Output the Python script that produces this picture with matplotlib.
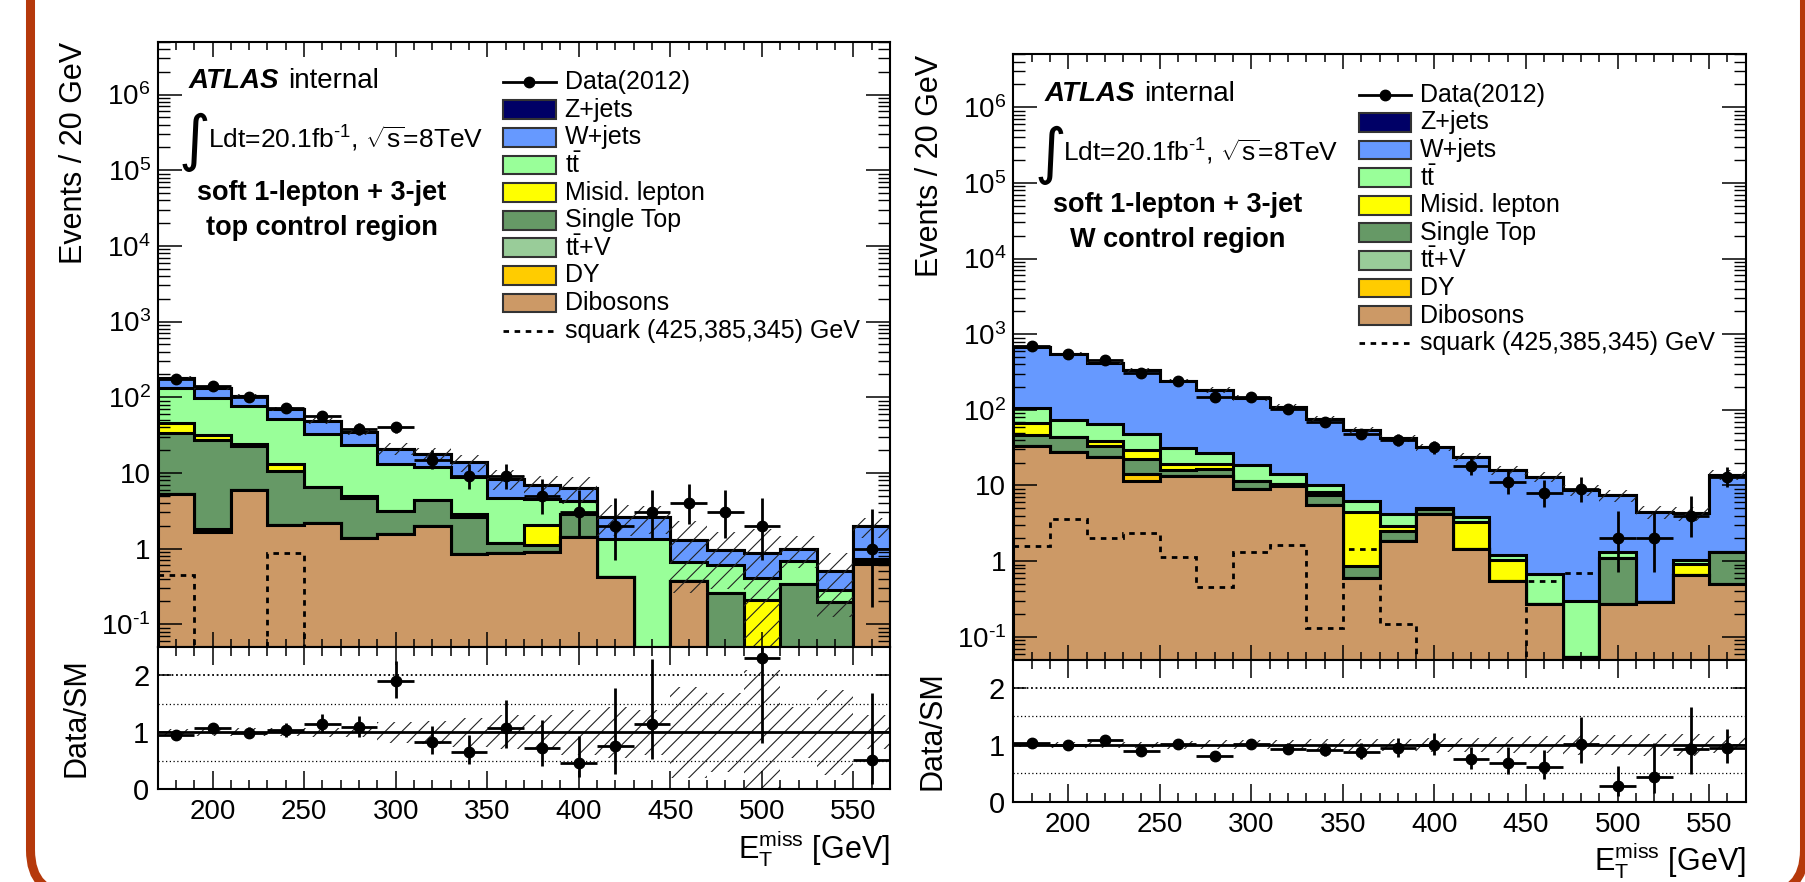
import numpy as np
import matplotlib
matplotlib.use("Agg")
import matplotlib.pyplot as plt
from matplotlib.patches import Rectangle, FancyBboxPatch
from matplotlib.lines import Line2D
from matplotlib.transforms import IdentityTransform
from matplotlib.ticker import FixedLocator, FixedFormatter, MultipleLocator, LogLocator, NullFormatter

plt.rcParams['font.family'] = ['Liberation Sans', 'DejaVu Sans']
plt.rcParams['mathtext.fontset'] = 'custom'
plt.rcParams['mathtext.rm'] = 'Liberation Sans'
plt.rcParams['mathtext.it'] = 'Liberation Sans:italic'
plt.rcParams['mathtext.bf'] = 'Liberation Sans:bold'
plt.rcParams['hatch.linewidth'] = 0.8

# ── binning: MET 170-570 GeV, 20 GeV bins ─────────────────────────────────────
edges = np.arange(170, 571, 20)
centers = edges[:-1] + 10

# ── top control region (left) ────────────────────────────────────────────────
top_data  = [172, 140, 102, 73, 56, 38, 40, 15, 9, 9, 5, 3, 2, 3, 4, 3, 2, 0, 0, 1]
top_dib   = [5.2, 1.64, 5.9, 2.07, 2.18, 1.36, 1.56, 2.01, 0.85, 0.87, 0.90, 1.43, 0.42, 0, 0.374, 0, 0, 0, 0, 0.63]
top_dy    = [0] * 20
top_ttv   = [0, 0.16, 0, 0, 0, 0, 0, 0, 0, 0, 0, 0, 0, 0, 0, 0, 0, 0, 0, 0]
top_stop  = [28.8, 25.6, 16.9, 8.4, 4.3, 3.3, 1.55, 2.42, 1.74, 0.32, 0.22, 1.47, 0, 0, 0, 0.26, 0, 0.342, 0.198, 0.05]
top_misid = [11.5, 3.9, 1.5, 2.5, 0, 0.34, 0, 0, 0.28, 0, 0.95, 0, 0, 0, 0, 0, 0.212, 0, 0, 0]
top_ttbar = [86.5, 65.7, 51.2, 38.4, 26.4, 18.5, 10.0, 7.47, 5.93, 3.47, 2.45, 1.3, 0.92, 1.34, 0.286, 0.355, 0.198, 0.338, 0.084, 0.04]
top_wjets = [47, 34, 27.5, 19.1, 15.8, 11.5, 7.9, 6.0, 5.0, 3.74, 2.38, 2.2, 1.29, 1.26, 0.63, 0.355, 0.46, 0.32, 0.218, 1.24]
top_zjets = [0] * 20
top_relerr = [0.06, 0.06, 0.07, 0.07, 0.08, 0.09, 0.18, 0.2, 0.25, 0.3, 0.3, 0.4, 0.45, 0.4, 0.8, 0.7, 1.1, 0.45, 0.75, 0.3]
top_squark = [0.445, 0, 0, 0.877, 0, 0, 0, 0, 0, 0, 0, 0, 0, 0, 0, 0, 0, 0, 0, 0]

# ── W control region (right) ─────────────────────────────────────────────────
w_data  = [706, 548, 456, 307, 244, 147, 147, 103, 70, 48, 40, 32, 18, 11, 8, 9, 2, 2, 4, 13]
w_dib   = [33.7, 27.5, 23.6, 11.6, 13.5, 13.3, 9.0, 9.8, 5.55, 0.596, 1.87, 4.2, 1.46, 0.54, 0.273, 0.054, 0.273, 0.287, 0.65, 0.5]
w_dy    = [0, 0, 0, 2.4, 0, 0, 0, 0, 0, 0, 0, 0, 0, 0, 0, 0, 0, 0, 0, 0]
w_ttv   = [0] * 20
w_stop  = [12.9, 16.0, 10.1, 8.5, 2.3, 3.3, 2.4, 0.7, 1.85, 0.28, 0.67, 0.7, 0, 0, 0, 0, 0.827, 0, 0, 0.81]
w_misid = [19.9, 0, 4.8, 7.4, 3.5, 2.4, 0, 0, 0.9, 3.56, 0.42, 0, 1.88, 0.51, 0, 0, 0, 0, 0.27, 0]
w_ttbar = [39.5, 30.8, 26.7, 18.2, 12.1, 8.0, 7.0, 3.8, 1.9, 1.86, 1.26, 0.1, 0.47, 0.14, 0.407, 0.239, 0.24, 0, 0.13, 0]
w_wjets = [573, 477, 357, 293, 210.6, 157, 125.6, 95.7, 66.3, 48.2, 38.3, 27, 20.2, 14.8, 12.4, 8.5, 6.06, 4.21, 3.25, 12.5]
w_zjets = [0] * 20
w_relerr = [0.04, 0.05, 0.05, 0.06, 0.07, 0.08, 0.08, 0.09, 0.1, 0.1, 0.11, 0.12, 0.13, 0.14, 0.15, 0.17, 0.18, 0.2, 0.2, 0.15]
w_squark = [1.58, 3.62, 2.01, 2.34, 1.12, 0.454, 1.31, 1.66, 0.132, 1.46, 0.148, 0, 0, 0, 0.544, 0.69, 0, 0, 0, 0]

# stack order bottom -> top
stack_colors = ['#cc9966', '#ffcc00', '#99cc99', '#669966', '#ffff00', '#99ff99', '#6699ff', '#000066']
legend_labels = ['Z+jets', 'W+jets', r'$\mathrm{t\bar{t}}$', 'Misid. lepton', 'Single Top',
                 r'$\mathrm{t\bar{t}}$+V', 'DY', 'Dibosons']
legend_colors = stack_colors[::-1]

W, H = 1806, 882
FLOOR = 1e-4


def poisson_err(n):
    n = np.asarray(n, dtype=float)
    hi = 1 + np.sqrt(n + 0.75)
    lo = np.where(n > 0, n - n * (1 - 1 / (9 * np.maximum(n, 1)) - 1 / (3 * np.sqrt(np.maximum(n, 1)))) ** 3, 0)
    return lo, hi


def style_x(ax, major_len, minor_len):
    ax.set_xlim(170, 570)
    ax.xaxis.set_major_locator(MultipleLocator(50))
    ax.xaxis.set_minor_locator(MultipleLocator(10))
    ax.tick_params(axis='x', which='major', direction='in', top=True, bottom=True,
                   length=major_len, width=1.1)
    ax.tick_params(axis='x', which='minor', direction='in', top=True, bottom=True,
                   length=minor_len, width=1.1)
    for s in ax.spines.values():
        s.set_linewidth(1.5)


def draw_panel(ox, oy, comps, data, relerr, squark, region):
    data = np.array(data, dtype=float)
    relerr = np.array(relerr)
    cum = np.cumsum(np.array(comps, dtype=float), axis=0)
    total = cum[-1]

    ax = fig.add_axes([ox / W, 1 - (oy + 605.3) / H, 732.5 / W, 605.3 / H])
    rax = fig.add_axes([ox / W, 1 - (oy + 747.5) / H, 732.5 / W, 142.2 / H])

    # stacked histogram, drawn from the top cumulative down
    for k in range(len(comps) - 1, -1, -1):
        ax.stairs(np.maximum(cum[k], FLOOR), edges, baseline=FLOOR, fill=True,
                  facecolor=stack_colors[k], edgecolor='k', lw=2.2, zorder=1)
    ax.stairs(total * (1 + relerr), edges, baseline=np.maximum(total * (1 - relerr), FLOOR),
              fill=True, facecolor='none', edgecolor='#222222', hatch='//', lw=0, zorder=1.5)
    ax.stairs(np.maximum(squark, FLOOR), edges, baseline=None, color='k', lw=2.0,
              linestyle=(0, (2, 2)), zorder=2)

    lo, hi = poisson_err(data)
    m = data > 0
    ax.errorbar(centers[m], data[m], xerr=10, yerr=[lo[m], hi[m]], fmt='o', color='k',
                ms=7.5, lw=2, capsize=0, zorder=3)

    ax.set_yscale('log')
    ax.set_ylim(0.05, 5e6)
    ax.yaxis.set_major_locator(FixedLocator([1e-1, 1, 10, 1e2, 1e3, 1e4, 1e5, 1e6]))
    ax.yaxis.set_major_formatter(FixedFormatter([r'$10^{\text{-1}}$', '1', '10', r'$10^{2}$', r'$10^{3}$',
                                                 r'$10^{4}$', r'$10^{5}$', r'$10^{6}$']))
    ax.yaxis.set_minor_locator(LogLocator(base=10, subs=np.arange(2, 10), numticks=100))
    ax.yaxis.set_minor_formatter(NullFormatter())
    ax.tick_params(axis='y', which='major', direction='in', left=True, right=True,
                   length=17, width=1.1, labelsize=20, pad=5)
    ax.tick_params(axis='y', which='minor', direction='in', left=True, right=True,
                   length=8.5, width=1.0)
    style_x(ax, 10.8, 5.5)
    ax.tick_params(axis='x', labelbottom=False)

    # ratio panel
    rax.stairs(1 + relerr, edges, baseline=1 - relerr, fill=True, facecolor='none',
               edgecolor='#222222', hatch='//', lw=0, zorder=1)
    rax.axhline(1, color='k', lw=2, zorder=2)
    rax.axhline(2, color='k', lw=1.3, ls=(0, (1, 1.5)), zorder=2)
    for yv in (0.5, 1.5):
        rax.axhline(yv, color='k', lw=0.9, ls=(0, (1, 2)), zorder=2)
    ratio = np.where(total > 0, data / total, 0)
    rm = (data > 0) & (ratio <= 2.5)
    rax.errorbar(centers[rm], ratio[rm], xerr=10, yerr=[lo[rm] / total[rm], hi[rm] / total[rm]],
                 fmt='o', color='k', ms=7.5, lw=2, capsize=0, zorder=3)
    rax.set_ylim(0, 2.5)
    rax.set_yticks([0, 1, 2])
    rax.set_yticklabels(['0', '1', '2'])
    rax.tick_params(axis='y', which='major', direction='in', left=True, right=True,
                    length=9.5, width=1.1, labelsize=21, pad=6)
    rax.tick_params(axis='y', which='minor', left=False, right=False)
    style_x(rax, 13, 6.5)
    rax.tick_params(axis='x', labelsize=20, pad=7)

    # axis titles
    fig.text((ox - 83.5) / W, 1 - (oy + 0.5) / H, 'Events / 20 GeV', rotation=90,
             ha='center', va='top', fontsize=22)
    fig.text((ox - 81) / W, 1 - (oy + 676) / H, 'Data/SM', rotation=90,
             ha='center', va='center', fontsize=22)
    fig.text((ox + 732.5) / W, 1 - (oy + 816.5) / H,
             r'$\mathrm{E}_{\mathrm{T}}^{\mathrm{miss}}$ [GeV]', ha='right', va='baseline', fontsize=22)

    # labels inside the plot
    def tx(dx, dy, s, **kw):
        fig.text((ox + dx) / W, 1 - (oy + dy) / H, s, **kw)

    tx(31, 46.5, 'ATLAS', fontsize=20, fontweight='bold', fontstyle='italic', va='baseline')
    tx(131, 46.5, 'internal', fontsize=20, va='baseline')
    tx(37, 101, '\u222b', fontsize=44, ha='center', va='center', family=['DejaVu Sans'])
    tx(50, 107, r'Ldt=20.1fb$^{\text{-1}}$, $\sqrt{\mathrm{s}}$=8TeV', fontsize=19, va='baseline')
    tx(164, 158, 'soft 1-lepton + 3-jet', fontsize=19.5, fontweight='bold', ha='center', va='baseline')
    tx(164, 193, region, fontsize=19.5, fontweight='bold', ha='center', va='baseline')

    # legend
    bx, bw, bh, lx, y0, dy = 345.5, 52.5, 18.7, 407, 40.5, 27.6
    ys = [oy + y0 + i * dy for i in range(10)]

    def fy(py):
        return 1 - py / H

    fig.add_artist(Line2D([(ox + bx) / W, (ox + bx + bw) / W], [fy(ys[0])] * 2, color='k', lw=2))
    fig.add_artist(Line2D([(ox + bx + bw / 2) / W], [fy(ys[0])], marker='o', ms=7.5, color='k'))
    fig.text((ox + lx) / W, fy(ys[0]), 'Data(2012)', fontsize=18, va='center')
    for i, (lab, col) in enumerate(zip(legend_labels, legend_colors)):
        yc = ys[i + 1]
        fig.add_artist(Rectangle(((ox + bx) / W, fy(yc + bh / 2)), bw / W, bh / H,
                                 facecolor=col, edgecolor='#333333', lw=1.5,
                                 transform=fig.transFigure))
        fig.text((ox + lx) / W, fy(yc), lab, fontsize=18, va='center')
    fig.add_artist(Line2D([(ox + bx) / W, (ox + bx + bw) / W], [fy(ys[9])] * 2, color='k', lw=2,
                          linestyle=(0, (2, 2))))
    fig.text((ox + lx) / W, fy(ys[9]), 'squark (425,385,345) GeV', fontsize=18, va='center')
    return ax, rax


fig = plt.figure(figsize=(W / 100, H / 100), dpi=100)
fig.patch.set_facecolor('white')

top_comps = [top_dib, top_dy, top_ttv, top_stop, top_misid, top_ttbar, top_wjets, top_zjets]
w_comps = [w_dib, w_dy, w_ttv, w_stop, w_misid, w_ttbar, w_wjets, w_zjets]

draw_panel(157.6, 41.7, top_comps, top_data, top_relerr, top_squark, 'top control region')
draw_panel(1013.3, 54.3, w_comps, w_data, w_relerr, w_squark, 'W control region')

# slide frame (rounded, top edge off the canvas)
frame = FancyBboxPatch((30.5, H - 895), 1804.5 - 30.5, 895 + 100, boxstyle='round,pad=0,rounding_size=45',
                       facecolor='none', edgecolor='#b5390b', lw=6.5, transform=IdentityTransform())
fig.add_artist(frame)

fig.savefig('out.png', dpi=100)
